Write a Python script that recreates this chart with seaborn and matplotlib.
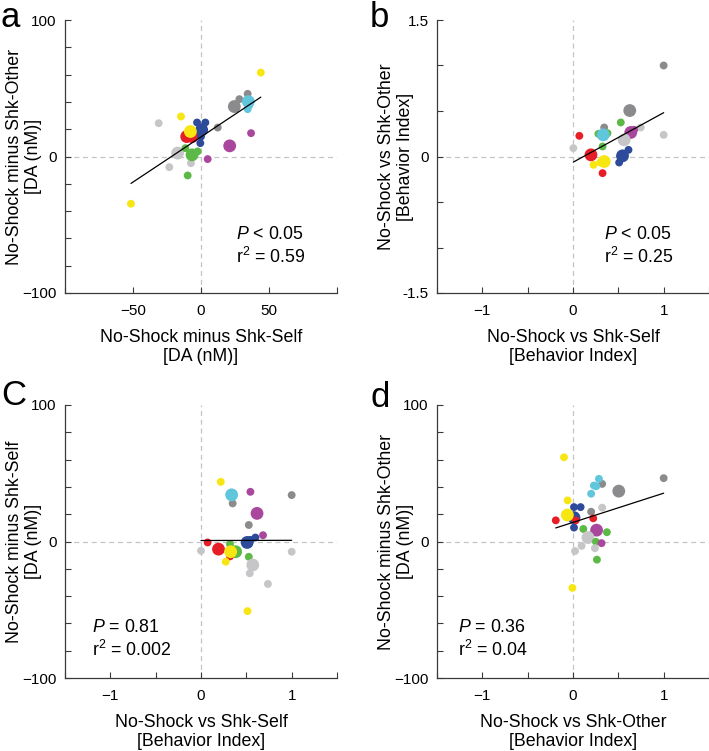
import numpy as np
import pandas as pd
import matplotlib
matplotlib.use("Agg")
import matplotlib.pyplot as plt
import seaborn as sns

sns.set_theme(style="ticks")
plt.rcParams['font.family'] = ['Liberation Sans', 'DejaVu Sans']
plt.rcParams['mathtext.fontset'] = 'custom'
plt.rcParams['mathtext.rm'] = 'Liberation Sans'
plt.rcParams['mathtext.it'] = 'Liberation Sans:italic'
plt.rcParams['mathtext.default'] = 'regular'
plt.rcParams['text.color'] = 'black'
plt.rcParams['axes.labelcolor'] = 'black'

PALETTE = {'Y': '#f8e612', 'R': '#e61f26', 'B': '#2d4a9b', 'G': '#5db946',
           'M': '#a9479d', 'C': '#60c6dc', 'DG': '#8b8b8d', 'LG': '#c6c6c8'}
SIZES = {'s': 32, 'b': 85}

# panel a: DA self vs DA other
a_x = [-51.5, -31.1, -23.3, -17.2, -7.4, -9.8, -11.5, -2.5, -6.6, 4.9, 21.1, 36.8, 12.3,
       -14.7, -10.5, -6.5, -2.9, 3.2, 0.5, 0.0, -0.5, -7.8, 24.5, 28.2, 34.3, 34.3, 35.5, 34.8, 44.0]
a_y = [-34.6, 24.4, -7.8, 2.5, -4.9, -13.9, 6.1, 3.7, 1.2, -1.9, 7.8, 17.1, 21.2,
       29.3, 14.6, 14.6, 24.9, 24.9, 19.5, 14.6, 9.8, 18.3, 36.6, 42.0, 45.9, 34.7, 37.5, 40.2, 61.5]
a_grp = ['Y', 'LG', 'LG', 'LG', 'LG', 'G', 'G', 'G', 'G', 'M', 'M', 'M', 'DG',
         'Y', 'R', 'R', 'B', 'B', 'B', 'B', 'B', 'Y', 'DG', 'DG', 'DG', 'C', 'C', 'C', 'Y']
a_size = ['s', 's', 's', 'b', 's', 's', 's', 's', 'b', 's', 'b', 's', 's',
          's', 'b', 'b', 's', 's', 'b', 's', 's', 'b', 'b', 's', 's', 's', 's', 'b', 's']

# panel b: behavior self vs behavior other
b_x = [1.0, 0.626, 0.527, 0.344, 0.747, 0.28, 0.38, 0.333, 0.674, 0.637, 1.0, 0.07, 0.326,
       0.564, 0.004, 0.612, 0.546, 0.509, 0.198, 0.227, 0.30, 0.344, 0.326]
b_y = [1.0, 0.505, 0.374, 0.319, 0.319, 0.249, 0.256, 0.238, 0.293, 0.264, 0.238, 0.227, 0.11,
       0.183, 0.092, 0.073, 0.007, -0.066, 0.018, -0.092, -0.065, -0.055, -0.183]
b_grp = ['DG', 'DG', 'G', 'DG', 'LG', 'G', 'G', 'C', 'M', 'M', 'LG', 'R', 'G',
         'LG', 'LG', 'B', 'B', 'B', 'R', 'Y', 'Y', 'Y', 'R']
b_size = ['s', 'b', 's', 's', 's', 's', 's', 'b', 's', 'b', 's', 's', 's',
          'b', 's', 's', 'b', 's', 'b', 's', 's', 'b', 's']

# panel c: behavior self vs DA self
c_x = [0.218, 0.545, 1.0, 0.349, 0.338, 0.618, 0.527, 0.684, 0.6, 0.509, 0.545, 0.073, 0.0,
       0.193, 0.32, 0.382, 0.32, 0.327, 0.273, 0.527, 1.0, 0.571, 0.538, 0.738, 0.513]
c_y = [43.7, 36.4, 34.0, 27.9, 34.2, 20.6, 12.1, 4.6, 2.9, -0.7, 1.2, -0.7, -6.8,
       -5.6, -1.9, -7.5, -10.9, -7.5, -14.8, -11.2, -7.5, -17.2, -23.3, -31.1, -51.0]
c_grp = ['Y', 'M', 'DG', 'DG', 'C', 'M', 'DG', 'M', 'B', 'B', 'B', 'R', 'LG',
         'R', 'G', 'G', 'R', 'Y', 'Y', 'G', 'LG', 'LG', 'LG', 'LG', 'Y']
c_size = ['s', 's', 's', 's', 'b', 'b', 's', 's', 's', 'b', 's', 's', 's',
          'b', 's', 'b', 's', 'b', 's', 's', 's', 'b', 's', 's', 's']

# panel d: behavior other vs DA other
d_x = [-0.099, 1.0, 0.322, 0.286, 0.231, 0.256, 0.505, 0.2, -0.059, 0.322, 0.011, 0.084,
       0.2, 0.011, -0.19, 0.223, 0.03, -0.062, 0.011, 0.114, 0.26, 0.374, 0.165, 0.253,
       0.315, 0.095, 0.242, 0.022, 0.264, -0.007]
d_y = [61.7, 46.4, 42.2, 45.9, 41.0, 40.5, 36.9, 35.0, 30.1, 24.8, 25.2, 25.2,
       21.8, 17.5, 15.5, 17.0, 15.5, 19.4, 10.2, 9.2, 8.3, 6.8, 2.9, -0.2,
       -1.2, -3.2, -4.9, -7.0, -13.3, -34.0]
d_grp = ['Y', 'DG', 'DG', 'C', 'C', 'C', 'DG', 'C', 'Y', 'LG', 'B', 'B',
         'DG', 'B', 'R', 'R', 'R', 'Y', 'B', 'G', 'M', 'G', 'LG', 'G',
         'M', 'LG', 'LG', 'LG', 'G', 'Y']
d_size = ['s', 's', 's', 's', 's', 's', 'b', 's', 's', 's', 's', 's',
          's', 'b', 's', 's', 's', 'b', 's', 's', 'b', 's', 'b', 's',
          's', 's', 's', 's', 's', 's']

DA_TICKS = [-100, -80, -60, -40, -20, 0, 20, 40, 60, 80, 100]
DA_LABELS = ['\u2212100', '', '', '', '', '0', '', '', '', '', '100']
BI_TICKS = [-1.5, -1, -0.5, 0, 0.5, 1, 1.5]
BI_XLABELS = ['', '\u22121', '', '0', '', '1', '']
BI_YLABELS = ['-1.5', '', '', '0', '', '', '1.5']
DAX_TICKS = [-100, -50, 0, 50, 100]
DAX_LABELS = ['', '\u221250', '0', '50', '']

SPINE = '#3a3a3a'


def panel(ax, x, y, grp, size, xlim, ylim, xt, xtl, yt, ytl, xlabel, ylabel, stats, sx, sy):
    df = pd.DataFrame({'x': x, 'y': y, 'grp': grp, 'size': size})
    ax.axhline(0, color='#c4c4c4', lw=0.9, ls=(0, (4, 3)), zorder=0)
    ax.axvline(0, color='#c4c4c4', lw=0.9, ls=(0, (4, 3)), zorder=0)
    sns.scatterplot(data=df, x='x', y='y', hue='grp', palette=PALETTE, size='size',
                    sizes=SIZES, legend=False, linewidth=0, alpha=1, ax=ax, zorder=2)
    sns.regplot(data=df, x='x', y='y', scatter=False, ci=None, truncate=True,
                color='black', line_kws={'lw': 0.9, 'zorder': 3}, ax=ax)
    ax.set_xlim(xlim)
    ax.set_ylim(ylim)
    ax.set_xticks(xt)
    ax.set_xticklabels(xtl)
    ax.set_yticks(yt)
    ax.set_yticklabels(ytl)
    ax.set_xlabel(xlabel, fontsize=12.8, linespacing=1.15, labelpad=8)
    ax.set_ylabel(ylabel, fontsize=12.8, linespacing=1.15)
    ax.yaxis.set_label_coords(-0.083, 0.5)
    sns.despine(ax=ax)
    for s in ['left', 'bottom']:
        ax.spines[s].set_color(SPINE)
        ax.spines[s].set_linewidth(0.9)
    ax.tick_params(bottom=True, left=True, direction='in', length=4, width=0.8,
                   color=SPINE, labelsize=11, labelcolor='black', pad=6)
    ax.tick_params(axis='x', pad=8)
    ax.text(sx, sy, stats, transform=ax.transAxes, fontsize=12.8, va='top', ha='left',
            linespacing=1.25)


fig = plt.figure(figsize=(7.09, 7.51), dpi=100)
W, H = 709, 751
pos = {'a': (65, 293), 'b': (437, 293), 'c': (65, 678), 'd': (437, 678)}
axs = {k: fig.add_axes([l / W, (H - b) / H, 272 / W, 273 / H]) for k, (l, b) in pos.items()}

panel(axs['a'], a_x, a_y, a_grp, a_size, (-100, 100), (-100, 100), DAX_TICKS, DAX_LABELS,
      DA_TICKS, DA_LABELS, 'No-Shock minus Shk-Self\n[DA (nM)]',
      'No-Shock minus Shk-Other\n[DA (nM)]', '$\\mathit{P}$ < 0.05\nr$^2$ = 0.59', 0.63, 0.245)
panel(axs['b'], b_x, b_y, b_grp, b_size, (-1.5, 1.5), (-1.5, 1.5), BI_TICKS, BI_XLABELS,
      BI_TICKS, BI_YLABELS, 'No-Shock vs Shk-Self\n[Behavior Index]',
      'No-Shock vs Shk-Other\n[Behavior Index]', '$\\mathit{P}$ < 0.05\nr$^2$ = 0.25', 0.614, 0.245)
panel(axs['c'], c_x, c_y, c_grp, c_size, (-1.5, 1.5), (-100, 100), BI_TICKS, BI_XLABELS,
      DA_TICKS, DA_LABELS, 'No-Shock vs Shk-Self\n[Behavior Index]',
      'No-Shock minus Shk-Self\n[DA (nM)]', '$\\mathit{P}$ = 0.81\nr$^2$ = 0.002', 0.1, 0.215)
panel(axs['d'], d_x, d_y, d_grp, d_size, (-1.5, 1.5), (-100, 100), BI_TICKS, BI_XLABELS,
      DA_TICKS, DA_LABELS, 'No-Shock vs Shk-Other\n[Behavior Index]',
      'No-Shock minus Shk-Other\n[DA (nM)]', '$\\mathit{P}$ = 0.36\nr$^2$ = 0.04', 0.077, 0.215)

for lab, (fx, fy) in {'a': (0, 27), 'b': (370, 27), 'C': (1, 405), 'd': (370, 407)}.items():
    fig.text(fx / W, 1 - fy / H, lab, fontsize=25, ha='left', va='baseline')

fig.savefig('out.png', dpi=100)
